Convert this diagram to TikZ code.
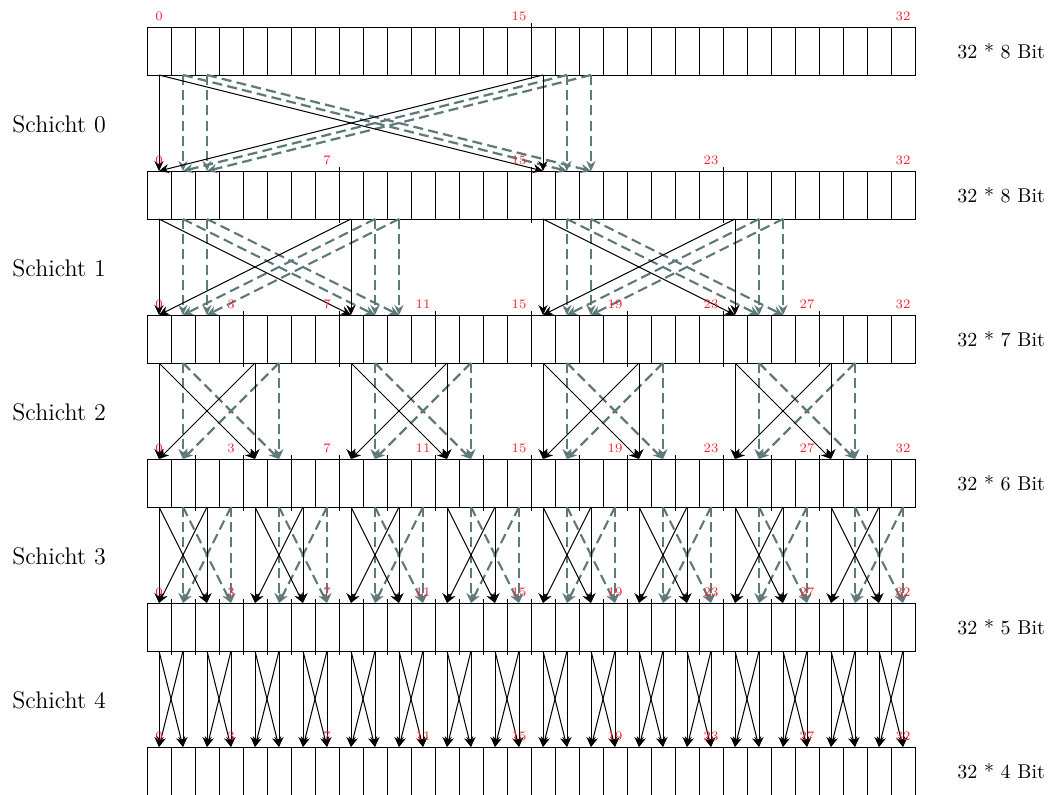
\documentclass[tikz,border=0pt]{standalone}
\usetikzlibrary{arrows.meta}
\definecolor{lblred}{RGB}{255,30,50}
\definecolor{dashc}{RGB}{95,122,122}
\begin{document}
\begin{tikzpicture}[x=0.5pt,y=-0.5pt,
  cellline/.style={line width=0.45pt},
  solidarrow/.style={line width=0.5pt,-{Stealth[length=5pt,width=4.6pt]}},
  dasharrow/.style={draw=dashc,line width=1.1pt,dash pattern=on 5pt off 2.6pt,-{Stealth[length=5pt,width=4.6pt]}},
  numlbl/.style={text=lblred,font=\fontsize{6.5}{7}\selectfont,inner sep=0pt,anchor=base},
  layerlbl/.style={font=\large,anchor=west,inner sep=0pt},
  bitlbl/.style={anchor=west,inner sep=0pt}]
\useasboundingbox (0,0) rectangle (1055,794);
% rows of cells
\foreach \r in {0,...,5}{
  \pgfmathtruncatemacro\ty{27+144*\r}
  \pgfmathtruncatemacro\by{\ty+48}
  \draw[cellline] (147,\ty) rectangle (915,\by);
  \foreach \i in {1,...,31}{\draw[cellline] (147+24*\i,\ty) -- (147+24*\i,\by);}
  \foreach \i in {0,...,31}{
    \coordinate (t-\r-\i) at (159+24*\i,\ty);
    \coordinate (b-\r-\i) at (159+24*\i,\by);}
}
% longer separators
\foreach \r in {0,...,4}{
  \pgfmathtruncatemacro\ty{27+144*\r}
  \pgfmathtruncatemacro\by{\ty+48}
  \pgfmathtruncatemacro\s{2^(4-\r)}
  \pgfmathtruncatemacro\n{32/\s-1}
  \foreach \k in {1,...,\n}{\draw[cellline] (147+24*\s*\k,\ty-4) -- (147+24*\s*\k,\by+4);}
}
% layer labels and bit labels
\foreach \r in {0,...,4}{\node[layerlbl] (schicht\r) at (12,124+144*\r) {Schicht \r};}
\foreach \r/\b in {0/8,1/8,2/7,3/6,4/5,5/4}{\node[bitlbl] (bits\r) at (957,51+144*\r) {32 * \b\ Bit};}
% butterflies: layer / stride / dashed offsets
\foreach \r/\s/\dl in {0/16/{1,2},1/8/{1,2},2/4/{1},3/2/{1}}{
  \pgfmathtruncatemacro\nx{\r+1}
  \pgfmathtruncatemacro\gs{2*\s}
  \pgfmathtruncatemacro\ng{32/\gs-1}
  \foreach \gi in {0,...,\ng}{
    \pgfmathtruncatemacro\g{\gi*\gs}
    \foreach \j in \dl{
      \pgfmathtruncatemacro\a{\g+\j}
      \pgfmathtruncatemacro\c{\g+\j+\s}
      \draw[dasharrow] (b-\r-\a) -- (t-\nx-\a);
      \draw[dasharrow] (b-\r-\a) -- (t-\nx-\c);
      \draw[dasharrow] (b-\r-\c) -- (t-\nx-\c);
      \draw[dasharrow] (b-\r-\c) -- (t-\nx-\a);
    }
  }
}
\foreach \r/\s in {0/16,1/8,2/4,3/2,4/1}{
  \pgfmathtruncatemacro\nx{\r+1}
  \pgfmathtruncatemacro\gs{2*\s}
  \pgfmathtruncatemacro\ng{32/\gs-1}
  \foreach \gi in {0,...,\ng}{
    \pgfmathtruncatemacro\a{\gi*\gs}
    \pgfmathtruncatemacro\c{\a+\s}
    \draw[solidarrow] (b-\r-\a) -- (t-\nx-\a);
    \draw[solidarrow] (b-\r-\a) -- (t-\nx-\c);
    \draw[solidarrow] (b-\r-\c) -- (t-\nx-\c);
    \draw[solidarrow] (b-\r-\c) -- (t-\nx-\a);
  }
}
% index labels
\foreach \ci/\lb in {0/0,15/15,31/32}{\node[numlbl] (n0-\ci) at ([yshift=3.25pt]t-0-\ci) {\lb};}
\foreach \ci/\lb in {0/0,7/7,15/15,23/23,31/32}{\node[numlbl] (n1-\ci) at ([yshift=3.25pt]t-1-\ci) {\lb};}
\foreach \r in {2,...,5}{
  \foreach \ci/\lb in {0/0,3/3,7/7,11/11,15/15,19/19,23/23,27/27,31/32}{\node[numlbl] (n\r-\ci) at ([yshift=3.25pt]t-\r-\ci) {\lb};}
}
\end{tikzpicture}
\end{document}
